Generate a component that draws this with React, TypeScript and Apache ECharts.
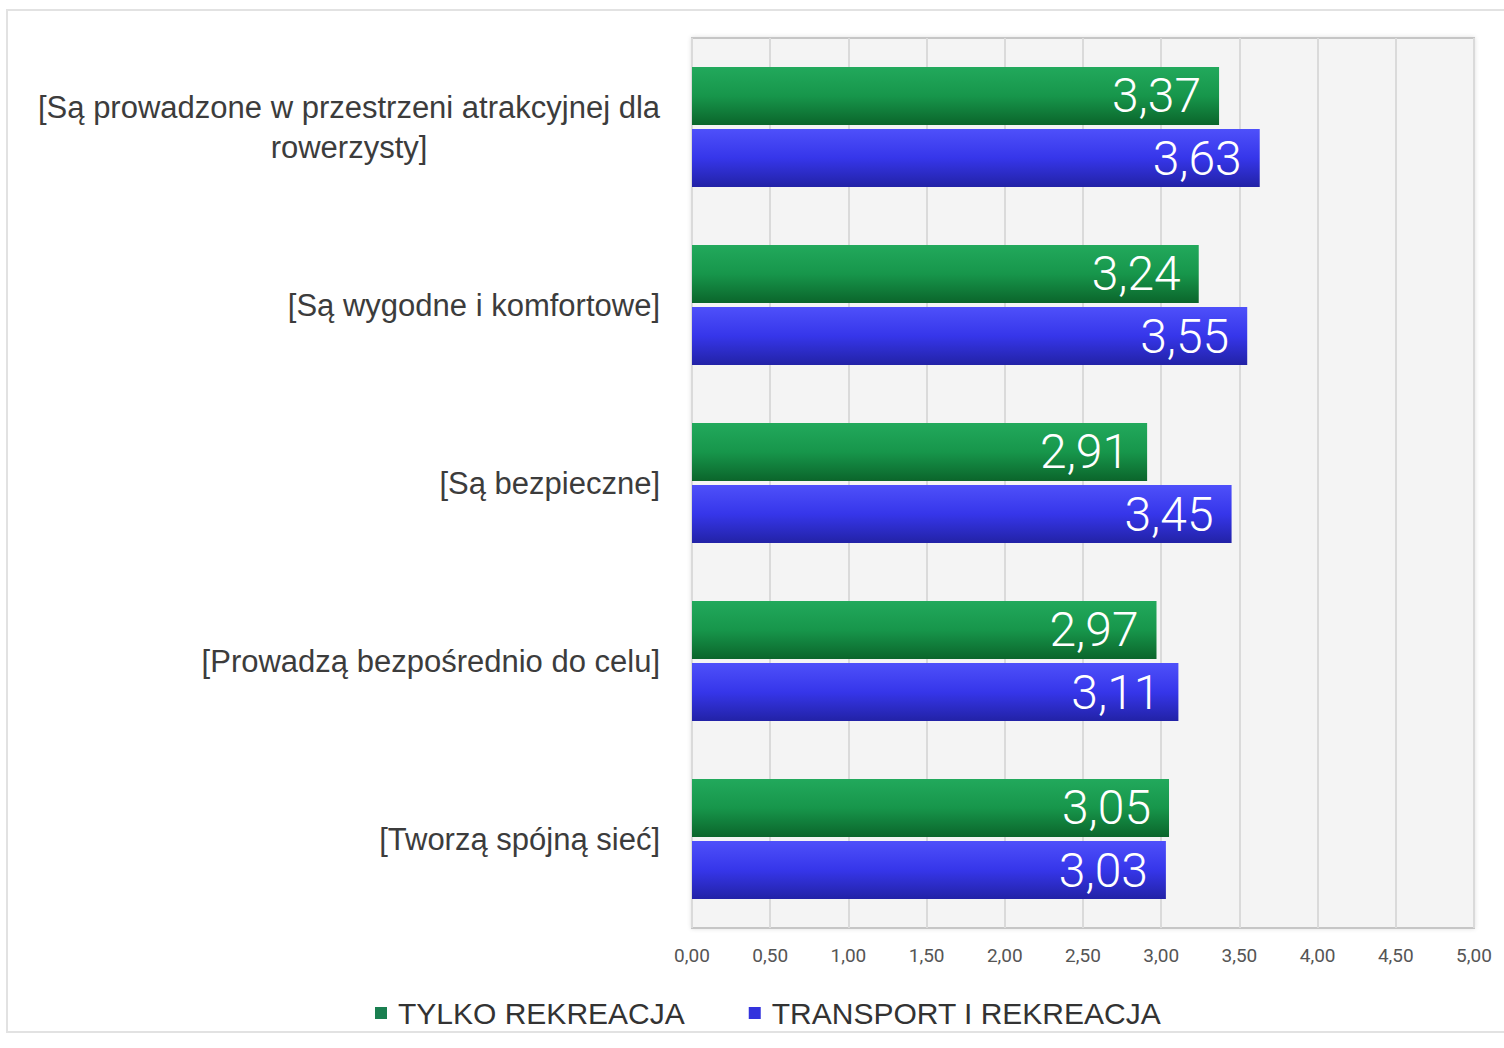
import React, { useEffect, useRef } from "react";
import * as echarts from "echarts";

const categories = [
  "[Są prowadzone w przestrzeni atrakcyjnej dla\nrowerzysty]",
  "[Są wygodne i komfortowe]",
  "[Są bezpieczne]",
  "[Prowadzą bezpośrednio do celu]",
  "[Tworzą spójną sieć]",
];
const seriesNames = ["TYLKO REKREACJA", "TRANSPORT I REKREACJA"];
const tylkoRekreacja = [3.37, 3.24, 2.91, 2.97, 3.05];
const transportIRekreacja = [3.63, 3.55, 3.45, 3.11, 3.03];

const fmt = (v: number) => v.toFixed(2).replace(".", ",");
const FONT = "'Liberation Sans', Arial, sans-serif";

export default function App() {
  const ref = useRef<HTMLDivElement>(null);
  useEffect(() => {
    document.body.style.margin = "0";
    const chart = echarts.init(ref.current!, null, { renderer: "svg" });
    const greenGrad = new echarts.graphic.LinearGradient(0, 0, 0, 1, [
      { offset: 0, color: "#22a95c" },
      { offset: 0.5, color: "#17964b" },
      { offset: 1, color: "#0b652b" },
    ]);
    const blueGrad = new echarts.graphic.LinearGradient(0, 0, 0, 1, [
      { offset: 0, color: "#4e50fa" },
      { offset: 0.5, color: "#3636ea" },
      { offset: 1, color: "#2222a6" },
    ]);
    const labelStyle = {
      show: true,
      position: "insideRight",
      distance: 18,
      color: "#ffffff",
      fontSize: 48,
      fontFamily: "Roboto",
      fontWeight: 300,
      formatter: (p: any) => fmt(p.value),
    };
    chart.setOption({
      animation: false,
      backgroundColor: "#ffffff",
      textStyle: { fontFamily: FONT },
      graphic: [
        {
          type: "rect",
          shape: { x: 7, y: 10, width: 1500, height: 1022 },
          style: { fill: "none", stroke: "#e2e2e2", lineWidth: 2 },
          silent: true,
          z: -10,
        },
      ],
      grid: {
        left: 692,
        right: 30,
        top: 38,
        bottom: 120,
        show: true,
        backgroundColor: "#f4f4f4",
        borderColor: "#c6c6c6",
        borderWidth: 2,
        shadowColor: "rgba(0,0,0,0.12)",
        shadowBlur: 4,
      },
      legend: {
        left: 370,
        top: 993,
        itemWidth: 12,
        itemHeight: 12,
        itemGap: 64,
        icon: "rect",
        textStyle: { fontSize: 30, color: "#333333", fontFamily: FONT, padding: [0, 0, 0, 6] },
        data: [
          { name: seriesNames[0], itemStyle: { color: "#1a7f50" } },
          { name: seriesNames[1], itemStyle: { color: "#3333dd" } },
        ],
      },
      xAxis: {
        type: "value",
        min: 0,
        max: 5,
        interval: 0.5,
        axisLine: { show: false },
        axisTick: { show: false },
        splitLine: { show: true, lineStyle: { color: "#dadada", width: 2 } },
        axisLabel: {
          color: "#555555",
          fontSize: 19,
          fontFamily: "Roboto",
          margin: 18,
          formatter: (v: number) => fmt(v),
        },
      },
      yAxis: {
        type: "category",
        inverse: true,
        data: categories,
        axisLine: { show: false },
        axisTick: { show: false },
        axisLabel: {
          margin: 32,
          color: "#3c3c3c",
          fontSize: 31,
          lineHeight: 40,
          formatter: (v: string) =>
            v
              .split("\n")
              .map((l) => "{c|" + l + "}")
              .join("\n"),
          rich: {
            c: { align: "center", fontSize: 31, lineHeight: 40, color: "#3c3c3c", fontFamily: FONT },
          },
        },
      },
      series: [
        {
          name: seriesNames[0],
          type: "bar",
          data: tylkoRekreacja,
          barWidth: 58,
          barGap: "7%",
          itemStyle: { color: greenGrad },
          label: labelStyle,
        },
        {
          name: seriesNames[1],
          type: "bar",
          data: transportIRekreacja,
          barWidth: 58,
          barGap: "7%",
          itemStyle: { color: blueGrad },
          label: labelStyle,
        },
      ],
    });
    return () => chart.dispose();
  }, []);
  return <div ref={ref} style={{ width: 1504, height: 1048 }} />;
}
